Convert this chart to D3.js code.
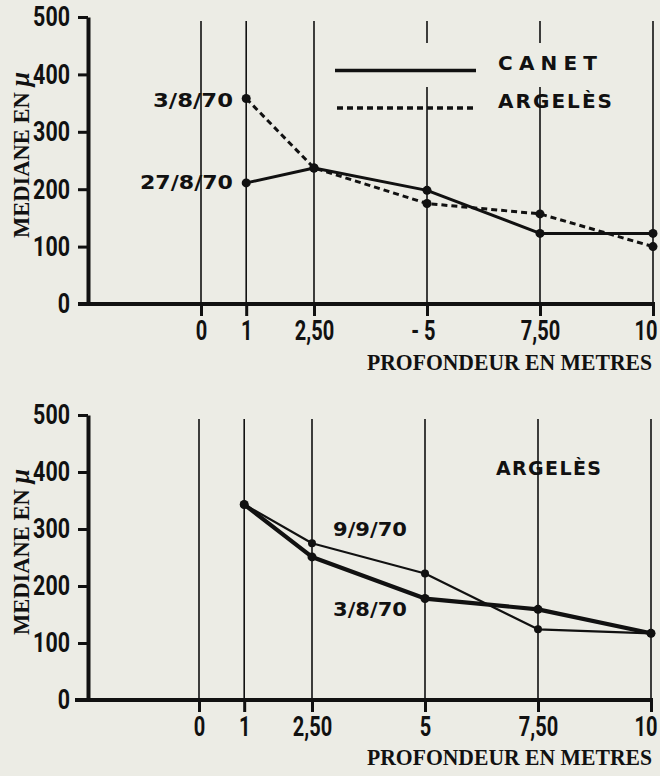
<!DOCTYPE html>
<html>
<head>
<meta charset="utf-8">
<script src="https://cdn.jsdelivr.net/npm/d3@7/dist/d3.min.js"></script>
<style>
  html, body { margin: 0; padding: 0; background: #ecece5; }
  svg { display: block; }
</style>
</head>
<body>
<svg id="chart" width="660" height="776"></svg>
<script>
// ---- data ----
const depthTicks = [0, 1, 2.5, 5, 7.5, 10];
const topTickLabels = ["0", "1", "2,50", "- 5", "7,50", "10"];
const bottomTickLabels = ["0", "1", "2,50", "5", "7,50", "10"];
const yTicks = [0, 100, 200, 300, 400, 500];
const depths = [1, 2.5, 5, 7.5, 10];

// top panel
const canet = [211, 237, 198, 123, 123];          // 27/8/70, solid
const argelesTop = [358, 237, 175, 157, 100];     // 3/8/70, dashed

// bottom panel (Argelès)
const argeles0909 = [343, 275, 222, 124, 117];    // 9/9/70, thin
const argeles0308 = [343, 251, 178, 159, 117];    // 3/8/70, thick

const yTitleMain = "MEDIANE EN ";
const yTitleUnit = "μ";
const xTitle = "PROFONDEUR EN METRES";

// ---- drawing ----
const svg = d3.select("#chart");
const INK = "#111";
const tickFont = "'Roboto', 'DejaVu Sans', sans-serif";
const labelFont = "'DejaVu Sans', sans-serif";
const serifFont = "'Liberation Serif', 'DejaVu Serif', serif";
const W = 660;

// measure digit advance of the tick font to condense it like the original
function digitAdvance(size) {
  const t = svg.append("text").text("0000").attr("font-family", tickFont)
    .attr("font-weight", "bold").attr("font-size", size);
  const w = t.node().getComputedTextLength() / 4;
  t.remove();
  return w;
}

// condense horizontally with a scale transform; xOf gives the wanted x (in tick coords)
function condense(sel, size, advance, xOf) {
  const k = advance / digitAdvance(size);
  sel.each(function(d, i) {
    const xs = xOf ? xOf.call(this, d, i) : 0;
    d3.select(this).attr("x", xs / k).attr("transform", `scale(${k},1)`);
  });
}

function panel(cfg) {
  const g = svg.append("g");
  const x = d3.scaleLinear().domain([0, 10]).range(cfg.xRange);
  const y = d3.scaleLinear().domain([0, 500]).range(cfg.yRange);

  // vertical grid lines
  depthTicks.forEach(d => {
    const xp = x(d);
    const y0 = y(500) + 4, y1 = y(0);
    const gap = cfg.gap && xp > cfg.gap.x0 && xp < cfg.gap.x1 ? cfg.gap : null;
    const segs = gap ? [[y0, gap.y0], [gap.y1, y1]] : [[y0, y1]];
    segs.forEach(s => g.append("line")
      .attr("x1", xp).attr("x2", xp).attr("y1", s[0]).attr("y2", s[1])
      .attr("stroke", INK).attr("stroke-width", 1.6));
  });

  // x axis
  const xAxis = g.append("g")
    .attr("transform", `translate(0,${y(0)})`)
    .call(d3.axisBottom(x).tickValues(depthTicks)
      .tickFormat((d, i) => cfg.xLabels[i]).tickSize(12).tickPadding(5).tickSizeOuter(0));
  xAxis.select(".domain").remove();
  xAxis.selectAll(".tick line").attr("stroke", INK).attr("stroke-width", 3);
  const xt = xAxis.selectAll(".tick text")
    .attr("fill", INK).attr("font-family", tickFont).attr("font-weight", "bold")
    .attr("font-size", 27);
  condense(xt, 27, 11.5, function(d, i) {
    const s = d3.select(this);
    if (cfg.xLabels[i].startsWith("-")) { s.attr("text-anchor", "end"); return 8; }
    if (i === depthTicks.length - 1) {
      s.attr("text-anchor", "end");
      return Math.min(9, W - 3 - x(d));   // keep the last label inside the page
    }
    return 0;
  });
  // baseline (extends left of the y axis)
  g.append("line").attr("x1", cfg.baseX0).attr("x2", x(10) + 2)
    .attr("y1", y(0)).attr("y2", y(0)).attr("stroke", INK).attr("stroke-width", 4);

  // y axis
  const yAxis = g.append("g")
    .attr("transform", `translate(${cfg.yAxisX},0)`)
    .call(d3.axisLeft(y).tickValues(yTicks).tickSize(10).tickPadding(8).tickSizeOuter(0));
  yAxis.select(".domain").attr("stroke", INK).attr("stroke-width", 4);
  yAxis.selectAll(".tick line").attr("stroke", INK).attr("stroke-width", 3);
  const yt = yAxis.selectAll(".tick text")
    .attr("fill", INK).attr("font-family", tickFont).attr("font-weight", "bold")
    .attr("font-size", 28);
  condense(yt, 28, 12.3, () => -18);

  // series
  const line = d3.line().x((d, i) => x(depths[i])).y(d => y(d));
  cfg.series.forEach(s => {
    g.append("path").datum(s.values)
      .attr("d", line).attr("fill", "none").attr("stroke", INK)
      .attr("stroke-width", s.width).attr("stroke-dasharray", s.dash || null)
      .attr("stroke-linejoin", "round");
    g.selectAll(null).data(s.values).enter().append("circle")
      .attr("cx", (d, i) => x(depths[i])).attr("cy", d => y(d))
      .attr("r", s.r).attr("fill", INK);
  });

  // titles
  const yt2 = g.append("text")
    .attr("transform", `translate(29,${cfg.yTitleY}) rotate(-90)`)
    .attr("text-anchor", "middle").attr("font-family", serifFont)
    .attr("font-weight", "bold").attr("font-size", 24).attr("fill", INK)
    .attr("textLength", 166).attr("lengthAdjust", "spacingAndGlyphs");
  yt2.append("tspan").text(yTitleMain);
  yt2.append("tspan").text(yTitleUnit).attr("font-style", "italic").attr("font-size", 28);
  g.append("text").text(xTitle)
    .attr("transform", `translate(367,${cfg.xTitleY}) scale(1,1.1)`)
    .attr("font-family", serifFont).attr("font-weight", "bold")
    .attr("font-size", 21.5).attr("fill", INK)
    .attr("textLength", 285).attr("lengthAdjust", "spacingAndGlyphs");

  // annotations
  cfg.labels.forEach(l => {
    g.append("text").text(l.t).attr("x", l.x).attr("y", l.y)
      .attr("font-family", labelFont).attr("font-weight", "bold")
      .attr("font-size", l.fs || 20).attr("fill", INK)
      .attr("textLength", l.w).attr("lengthAdjust", l.adj || "spacingAndGlyphs");
  });

  return { g, x, y };
}

// top panel
const topPanel = panel({
  xRange: [201, 653], yRange: [304, 17], yAxisX: 88, baseX0: 78,
  xLabels: topTickLabels, yTitleY: 155, xTitleY: 370,
  gap: { x0: 330, x1: 620, y0: 43, y1: 87 },
  series: [
    { values: canet, width: 3, r: 4.5 },
    { values: argelesTop, width: 3, r: 4.5, dash: "6,4" }
  ],
  labels: [
    { t: "3/8/70", x: 153, y: 107, w: 80 },
    { t: "27/8/70", x: 140, y: 189, w: 93 },
    { t: "CANET", x: 498, y: 70, w: 99, adj: "spacing" },
    { t: "ARGELÈS", x: 498, y: 108, w: 114, adj: "spacing" }
  ]
});
// legend samples
topPanel.g.append("line").attr("x1", 335).attr("x2", 476).attr("y1", 70.5).attr("y2", 70.5)
  .attr("stroke", INK).attr("stroke-width", 3.5);
topPanel.g.append("line").attr("x1", 337).attr("x2", 476).attr("y1", 108).attr("y2", 108)
  .attr("stroke", INK).attr("stroke-width", 3.5).attr("stroke-dasharray", "6,4");

// bottom panel
panel({
  xRange: [199, 651], yRange: [700, 415], yAxisX: 88, baseX0: 75,
  xLabels: bottomTickLabels, yTitleY: 552, xTitleY: 765,
  series: [
    { values: argeles0909, width: 2.2, r: 4 },
    { values: argeles0308, width: 4.2, r: 4.5 }
  ],
  labels: [
    { t: "ARGELÈS", x: 496, y: 475, w: 105, adj: "spacing", fs: 19 },
    { t: "9/9/70", x: 333, y: 536, w: 74 },
    { t: "3/8/70", x: 333, y: 616, w: 74 }
  ]
});
</script>
</body>
</html>
